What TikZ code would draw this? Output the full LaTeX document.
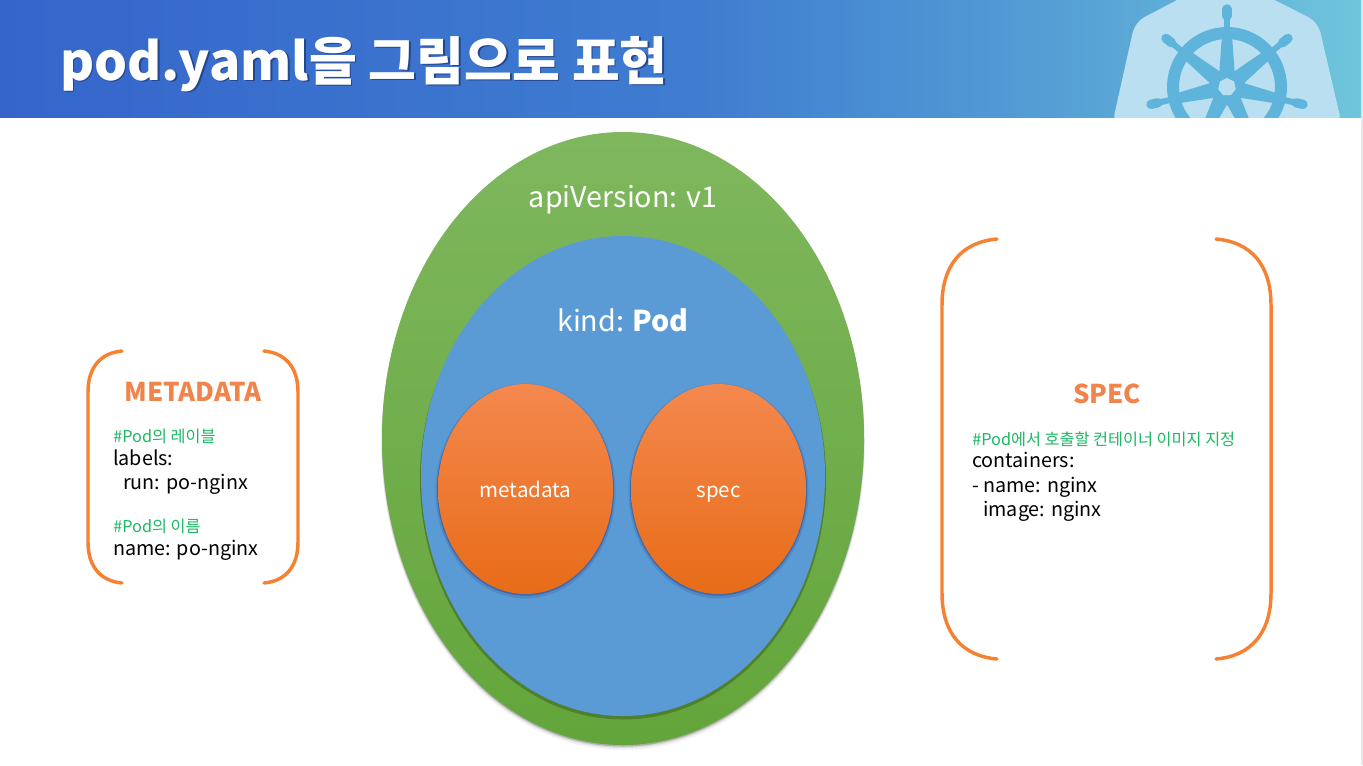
\documentclass[tikz,border=0pt]{standalone}
\usepackage{fontspec}
\setmainfont{Noto Sans CJK KR}
\usetikzlibrary{shapes.geometric,calc}
\definecolor{orangeline}{HTML}{F58233}
\definecolor{orangetext}{HTML}{F0844A}
\definecolor{greentext}{HTML}{1DB865}
\definecolor{helmlight}{HTML}{B9DFF0}
\definecolor{helmdark}{HTML}{5FB4DC}
\definecolor{greenA}{RGB}{127,183,94}
\definecolor{greenB}{RGB}{99,165,58}
\definecolor{greenS}{RGB}{78,128,46}
\definecolor{blueF}{RGB}{91,155,213}
\definecolor{blueS}{RGB}{62,106,170}
\definecolor{orA}{RGB}{244,136,78}
\definecolor{orB}{RGB}{232,108,24}
\definecolor{titleshadow}{RGB}{36,70,140}
\pgfdeclarehorizontalshading{headershade}{100bp}{
  rgb(0bp)=(0.208,0.396,0.796);
  rgb(25bp)=(0.208,0.396,0.796);
  rgb(50.7bp)=(0.247,0.490,0.816);
  rgb(64bp)=(0.333,0.624,0.835);
  rgb(75bp)=(0.439,0.776,0.863);
  rgb(100bp)=(0.439,0.776,0.863)}
\tikzset{
  oval/.style={ellipse,inner sep=0pt,text=white,align=center},
  orangeoval/.style={oval,minimum width=131.25pt,minimum height=157.5pt,top color=orA,bottom color=orB,font=\fontsize{15.4}{18}\selectfont,text height=14pt,text depth=2pt},
  bracketline/.style={draw=orangeline,line width=2.6pt,line cap=round},
  codeline/.style={anchor=base west,inner sep=0pt,font=\fontsize{14.8}{18}\selectfont},
  commentline/.style={anchor=base west,inner sep=0pt,text=greentext,font=\fontsize{12.2}{15}\selectfont},
  headline/.style={anchor=base,inner sep=0pt,text=orangetext,font=\fontsize{19.4}{23}\bfseries\selectfont},
  biglabel/.style={anchor=base,inner sep=0pt,text=white,font=\fontsize{21.5}{26}\selectfont},
  titletext/.style={anchor=base west,inner sep=0pt,font=\fontsize{39}{46}\bfseries\selectfont},
}
\begin{document}
\begin{tikzpicture}[x=0.75pt,y=-0.75pt]
\useasboundingbox (0,0) rectangle (1363,765);
\fill[white] (0,0) rectangle (1363,765);
\fill[gray!18] (1361,0) rectangle (1363,765);
% header
\shade[shading=headershade] (0,0) rectangle (1361,117);
\begin{scope}
\clip (0,0) rectangle (1361,117);
\fill[helmlight,rounded corners=8pt] (1112,125) -- (1135,22) -- (1225,-25) -- (1318,22) -- (1342,125) -- cycle;
\coordinate (hub) at (1227,87);
\draw[helmdark,line width=9pt] (hub) circle (54);
\fill[helmdark] (hub) circle (18);
\foreach \a in {90,141.43,192.86,244.29,295.71,347.14,38.57}{
  \fill[helmdark] ($(hub)+(-\a:10)+(-\a+90:8)$) -- ($(hub)+(-\a:52)+(-\a+90:5)$) -- ($(hub)+(-\a:52)+(-\a-90:5)$) -- ($(hub)+(-\a:10)+(-\a-90:8)$) -- cycle;
  \draw[helmdark,line width=4.5pt] ($(hub)+(-\a:56)$) -- ($(hub)+(-\a:74)$);
  \draw[helmdark,line width=7pt,line cap=round] ($(hub)+(-\a:71)$) -- ($(hub)+(-\a:78)$);
}
\fill[helmlight] ($(hub)+(-90:9)$) -- ($(hub)+(-141.43:9)$) -- ($(hub)+(-192.86:9)$) -- ($(hub)+(-244.29:9)$) -- ($(hub)+(-295.71:9)$) -- ($(hub)+(-347.14:9)$) -- ($(hub)+(-38.57:9)$) -- cycle;
\end{scope}
\node[titletext,text=titleshadow] (titleshade) at (61.5,81.5) {pod.yaml을 그림으로 표현};
\node[titletext,text=white] (title) at (60,80) {pod.yaml을 그림으로 표현};
% ovals
\fill[black!5] (623,443.5) ellipse (241.5 and 306.5);
\fill[black!14] (623,441.5) ellipse (241.5 and 306.5);
\fill[black!32] (623,440) ellipse (241 and 306.5);
\node[oval,minimum width=361.5pt,minimum height=459.75pt,top color=greenA,bottom color=greenB] (api) at (623,438.5) {};
\fill[greenS] (623,479) ellipse (203 and 240.5);
\node[oval,minimum width=303pt,minimum height=360pt,fill=blueF] (kind) at (623,476) {};
\foreach \c in {525.5,718.5}{
  \fill[blueS,opacity=.35] (\c,491) ellipse (90 and 107.5);
  \fill[blueS] (\c,490.2) ellipse (88.5 and 105.5);
}
\node[orangeoval] (metadata) at (525.5,489) {metadata};
\node[orangeoval] (spec) at (718.5,489) {spec};
\node[biglabel] (apilabel) at (623,207) {apiVersion: v1};
\node[biglabel] (kindlabel) at (623,331) {kind: \textbf{Pod}};
% left brackets
\draw[bracketline] (122,351) .. controls (100,353) and (88,368) .. (88,392) -- (88,542) .. controls (88,566) and (100,581) .. (122,583);
\draw[bracketline] (264,351) .. controls (286,353) and (298,368) .. (298,392) -- (298,542) .. controls (298,566) and (286,581) .. (264,583);
% right brackets
\draw[bracketline] (997,239) .. controls (962,242) and (942,265) .. (942,305) -- (942,593) .. controls (942,633) and (962,656) .. (997,659);
\draw[bracketline] (1216,239) .. controls (1251,242) and (1271,265) .. (1271,305) -- (1271,593) .. controls (1271,633) and (1251,656) .. (1216,659);
% metadata text
\node[headline] (methead) at (193,401) {METADATA};
\node[commentline] (c1) at (113,442) {\#Pod의 레이블};
\node[codeline] (l1) at (113,465) {labels:};
\node[codeline] (l2) at (123,489) {run: po-nginx};
\node[commentline] (c2) at (113,532) {\#Pod의 이름};
\node[codeline] (l3) at (113,555) {name: po-nginx};
% spec text
\node[headline] (spechead) at (1107,403) {SPEC};
\node[commentline] (c3) at (972,445) {\#Pod에서 호출할 컨테이너 이미지 지정};
\node[codeline] (s1) at (972,467) {containers:};
\node[codeline] (s2) at (972,492) {- name: nginx};
\node[codeline] (s3) at (983,516) {image: nginx};
\end{tikzpicture}
\end{document}
